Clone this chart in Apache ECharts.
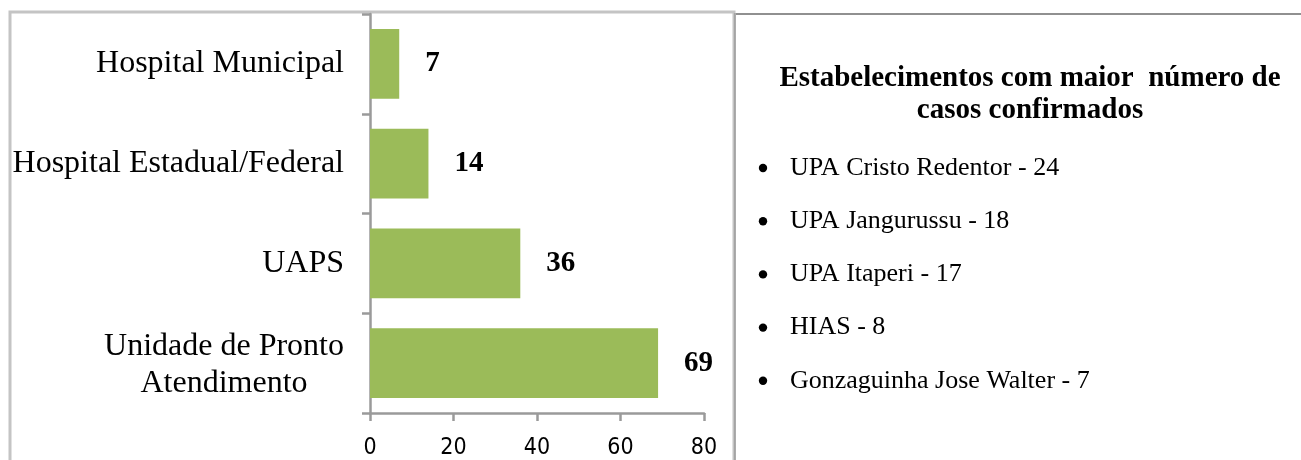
<!DOCTYPE html>
<html>
<head>
<meta charset="utf-8">
<script src="https://cdn.jsdelivr.net/npm/echarts@6/dist/echarts.min.js"></script>
<style>
html,body{margin:0;padding:0;background:#fff;}
#chart{width:1301px;height:460px;}
</style>
</head>
<body>
<div id="chart"></div>
<script>
// Data
const categories = ['Unidade de Pronto Atendimento', 'UAPS', 'Hospital Estadual/Federal', 'Hospital Municipal'];
const values = [69, 36, 14, 7];
const xTicks = [0, 20, 40, 60, 80];
const panelTitle = 'Estabelecimentos com maior  número de\ncasos confirmados';
const establishments = ['UPA Cristo Redentor', 'UPA Jangurussu', 'UPA Itaperi', 'HIAS', 'Gonzaguinha Jose Walter'];
const establishmentCounts = [24, 18, 17, 8, 7];

const serif = '"Liberation Serif", "Times New Roman", serif';
const chart = echarts.init(document.getElementById('chart'));

const graphics = [
  // chart frame
  {type:'rect', shape:{x:10, y:12, width:724, height:470}, style:{fill:'none', stroke:'#c4c4c4', lineWidth:3}, silent:true},
  {type:'line', shape:{x1:735, y1:13, x2:735, y2:460}, style:{stroke:'#9a9a9a', lineWidth:1.5}, silent:true},
  // right panel top line
  {type:'line', shape:{x1:736, y1:14, x2:1301, y2:14}, style:{stroke:'#6b6b6b', lineWidth:1.5}, silent:true},
  // panel title
  {type:'text', x:1030, y:63, style:{text:panelTitle, font:'bold 29px ' + serif, fill:'#000', align:'center', verticalAlign:'top', lineHeight:32}, silent:true}
];
const baseY = 168, stepY = 53.2;
establishments.forEach((name, i) => {
  const y = baseY + i * stepY;
  graphics.push({type:'circle', shape:{cx:763, cy:y, r:4.2}, style:{fill:'#000'}, silent:true});
  graphics.push({type:'text', x:790, y:y, style:{text:name + ' - ' + establishmentCounts[i], font:'26px ' + serif, fill:'#000', align:'left', verticalAlign:'middle'}, silent:true});
});

chart.setOption({
  animation:false,
  backgroundColor:'#fff',
  grid:{left:370, right:597, top:14, bottom:45, containLabel:false},
  xAxis:{
    type:'value', min:xTicks[0], max:xTicks[xTicks.length-1], interval:xTicks[1]-xTicks[0],
    splitLine:{show:false},
    axisLine:{show:true, lineStyle:{color:'#9a9a9a', width:2.5}},
    axisTick:{show:true, length:8, lineStyle:{color:'#9a9a9a', width:2.5}},
    axisLabel:{fontFamily:'"DejaVu Sans Condensed", "Liberation Sans Narrow", sans-serif', fontSize:23, color:'#000', margin:24}
  },
  yAxis:{
    type:'category', data:categories,
    axisLine:{show:true, lineStyle:{color:'#9a9a9a', width:2.5}},
    axisTick:{show:true, length:8, lineStyle:{color:'#9a9a9a', width:2.5}},
    axisLabel:{
      fontFamily:serif, fontSize:32, color:'#000', margin:26,
      formatter:function(v){
        if (v === 'Unidade de Pronto Atendimento') return '{c|Unidade de Pronto}\n{c|Atendimento}';
        return v;
      },
      rich:{c:{width:240, align:'center', fontFamily:serif, fontSize:32, lineHeight:37, color:'#000', padding:[3,0,0,0]}}
    }
  },
  series:[{
    type:'bar', data:values, barCategoryGap:'30%',
    itemStyle:{color:'#9bbb59'},
    label:{show:true, position:'right', distance:26, fontFamily:serif, fontWeight:'bold', fontSize:29, color:'#000'}
  }],
  graphic:graphics
});
</script>
</body>
</html>
